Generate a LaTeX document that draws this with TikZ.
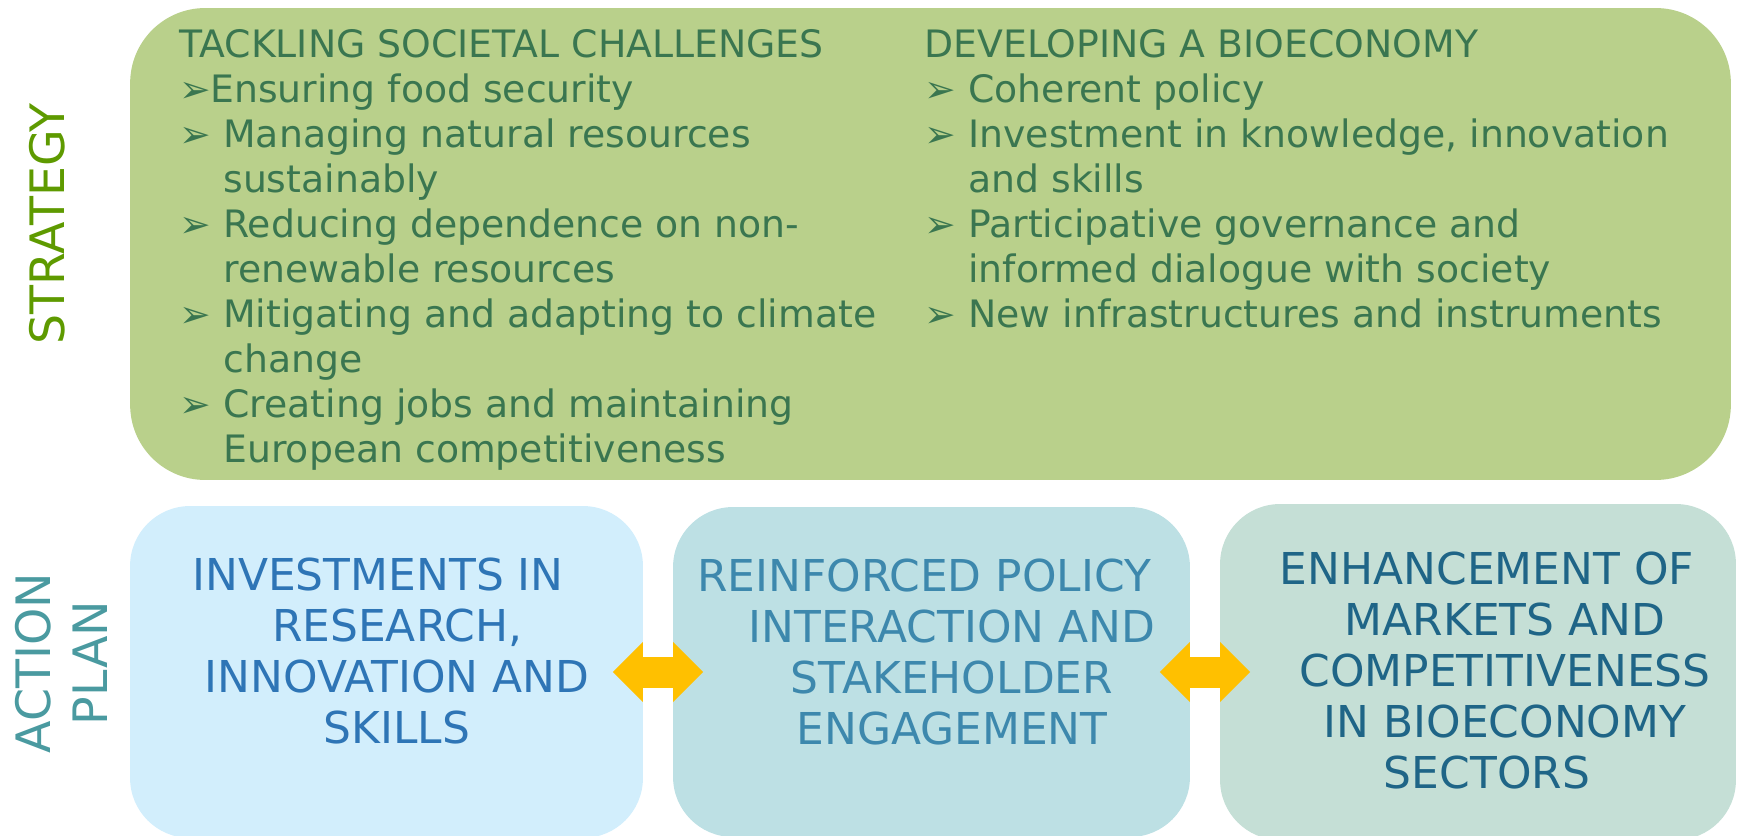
\documentclass[tikz,border=0pt]{standalone}
\usepackage{fontspec}
\setmainfont{DejaVu Sans}
\usetikzlibrary{arrows.meta}

\definecolor{stratgreen}{HTML}{5E9A00}
\definecolor{actionteal}{HTML}{4A9AA0}
\definecolor{topfill}{HTML}{B9D08B}
\definecolor{toptext}{HTML}{3A7650}
\definecolor{resfill}{HTML}{D2EEFC}
\definecolor{restext}{HTML}{2E75B6}
\definecolor{polfill}{HTML}{BDE0E4}
\definecolor{poltext}{HTML}{3D88AD}
\definecolor{mktfill}{HTML}{C5DFD6}
\definecolor{mkttext}{HTML}{1F6587}
\definecolor{arrowgold}{HTML}{FFC000}

\newcommand{\bul}{\makebox[0.88cm][l]{➢}}
\newcommand{\cont}{\hspace*{0.88cm}}

\tikzset{
  panel/.style={rectangle, rounded corners=1.2cm, inner sep=0pt, outer sep=0pt, minimum width=10.3cm},
  sidelabel/.style={rotate=90, inner sep=0pt, font=\fontsize{27pt}{32.4pt}\selectfont},
  coltext/.style={align=left, inner sep=0pt, text=toptext, font=\fontsize{21.5pt}{25.6pt}\selectfont},
  boxtext/.style={align=center, inner sep=0pt, anchor=north, font=\fontsize{25pt}{29pt}\selectfont},
  link/.style={draw=arrowgold, line width=0.62cm,
    {Triangle[length=0.6cm,width=1.2cm,line width=0pt]}-{Triangle[length=0.6cm,width=1.2cm,line width=0pt]},
    shorten <=-0.6cm, shorten >=-0.6cm}
}

\begin{document}
\begin{tikzpicture}[x=0.02cm,y=-0.02cm]
\useasboundingbox (0,0) rectangle (1737,835);
\clip (0,0) rectangle (1737,835);

% panels
\node[panel, rounded corners=1.5cm, fill=topfill, minimum width=32.02cm, minimum height=9.44cm] (strategy) at (930.5,244) {};
\node[panel, fill=resfill, minimum width=10.26cm, minimum height=6.64cm] (research) at (386.5,672) {};
\node[panel, fill=polfill, minimum width=10.34cm, minimum height=6.60cm] (policy) at (931.5,672) {};
\node[panel, fill=mktfill, minimum width=10.32cm, minimum height=6.72cm] (markets) at (1478,672) {};

% side labels
\node[sidelabel, text=stratgreen] (stratlabel) at (47,224) {STRATEGY};
\node[sidelabel, text=actionteal, align=center] (actionlabel) at (61,663) {ACTION\\PLAN};

% strategy columns
\node[coltext, anchor=north west] (challenges) at (179,29) {TACKLING SOCIETAL CHALLENGES\\
\makebox[0.62cm][l]{➢}Ensuring food security\\
\bul Managing natural resources\\
\cont sustainably\\
\bul Reducing dependence on non-\\
\cont renewable resources\\
\bul Mitigating and adapting to climate\\
\cont change\\
\bul Creating jobs and maintaining\\
\cont European competitiveness};

\node[coltext, anchor=north west] (bioeconomy) at (924,29) {DEVELOPING A BIOECONOMY\\
\bul Coherent policy\\
\bul Investment in knowledge, innovation\\
\cont and skills\\
\bul Participative governance and\\
\cont informed dialogue with society\\
\bul New infrastructures and instruments};

% action plan texts
\node[boxtext, text=restext] (researchtext) at (397,558) {INVESTMENTS IN\hspace*{0.76cm}\\RESEARCH,\\INNOVATION AND\\SKILLS};
\node[boxtext, text=poltext] (policytext) at (952,559) {REINFORCED POLICY\hspace*{1.12cm}\\INTERACTION AND\\STAKEHOLDER\\ENGAGEMENT};
\node[boxtext, text=mkttext] (marketstext) at (1505,552) {ENHANCEMENT OF\hspace*{0.72cm}\\MARKETS AND\\COMPETITIVENESS\\IN BIOECONOMY\\SECTORS\hspace*{0.72cm}};

% links
\draw[link] (research.east) -- (policy.west);
\draw[link] (policy.east) -- (markets.west);

\end{tikzpicture}
\end{document}
